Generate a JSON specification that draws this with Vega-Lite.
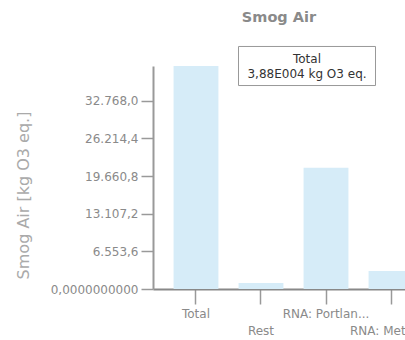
{
  "$schema": "https://vega.github.io/schema/vega-lite/v6.json",
  "autosize": "none",
  "width": 252,
  "height": 223,
  "padding": {"left": 153, "top": 66, "right": 0, "bottom": 51},
  "background": "white",
  "config": {
    "locale": {"number": {"decimal": ",", "thousands": ".", "grouping": [3], "currency": ["", "€"]}},
    "view": {"stroke": null},
    "font": "DejaVu Sans"
  },
  "title": {"text": "Smog Air", "fontSize": 14.5, "fontWeight": "bold", "color": "#8a8a8a", "offset": 19, "anchor": "middle", "font": "DejaVu Sans"},
  "datasets": {
    "bars": [
      {"category": "Total", "value": 38800},
      {"category": "Rest", "value": 1050},
      {"category": "RNA: Portlan...", "value": 21100},
      {"category": "RNA: Metha...", "value": 3150}
    ],
    "note": [
      {"category": "RNA: Portlan...", "value": 38800, "label": "Total\n3,88E004 kg O3 eq."}
    ]
  },
  "layer": [
    {
      "data": {"name": "bars"},
      "mark": {"type": "bar", "color": "#d6ecf8"},
      "encoding": {
        "x": {
          "field": "category", "type": "nominal", "sort": null,
          "scale": {"domain": ["Total", "Rest", "RNA: Portlan...", "RNA: Metha..."], "range": [0, 281], "paddingInner": 0.31, "paddingOuter": 0.3165},
          "axis": {
            "title": null,
            "labelExpr": "(datum.value == 'Rest' || datum.value == 'RNA: Metha...') ? ['', datum.value] : datum.value",
            "labelLineHeight": 17,
            "labelAngle": 0,
            "labelColor": "#8a8a8a",
            "labelFontSize": 12,
            "labelPadding": 4,
            "tickSize": 15,
            "tickColor": "#999999",
            "tickWidth": 1.5,
            "domainColor": "#888888",
            "domainWidth": 2,
            "labelLimit": 0
          }
        },
        "y": {
          "field": "value", "type": "quantitative",
          "scale": {"domain": [0, 38800], "nice": false},
          "axis": {
            "title": "Smog Air [kg O3 eq.]",
            "values": [0, 3276.8, 6553.6, 9830.4, 13107.2, 16384, 19660.8, 22937.6, 26214.4, 29491.2, 32768, 36044.8],
            "labelExpr": "datum.value == 0 ? '0,0000000000' : (round(datum.value / 3276.8) % 2 == 1 ? '' : format(datum.value, ',.1f'))",
            "tickSize": 12,
            "tickDash": {"condition": {"test": "round(datum.value / 3276.8) % 2 == 1", "value": [6, 20]}, "value": [20, 0]},
            "grid": false,
            "domainColor": "#999999",
            "domainWidth": 2,
            "tickColor": "#999999",
            "tickWidth": 1.5,
            "labelColor": "#8a8a8a",
            "labelFontSize": 12,
            "labelPadding": 3,
            "labelFlush": false,
            "labelOverlap": false,
            "titleColor": "#aaaaaa",
            "titleFontSize": 16,
            "titleFontWeight": "normal",
            "titleX": -130,
            "titleY": 129,
            "titleAngle": 270,
            "titleAlign": "center",
            "titleBaseline": "middle"
          }
        }
      }
    },
    {
      "data": {"name": "note"},
      "mark": {"type": "point", "shape": "M-1,-0.285L1,-0.285L1,0.285L-1,0.285Z", "size": 18769, "filled": true, "fill": "white", "stroke": "#999999", "strokeWidth": 1, "opacity": 1, "xOffset": -19},
      "encoding": {
        "x": {"field": "category", "type": "nominal"},
        "y": {"field": "value", "type": "quantitative"}
      }
    },
    {
      "data": {"name": "note"},
      "mark": {"type": "text", "lineBreak": "\n", "xOffset": -19, "yOffset": -7, "fontSize": 12, "color": "#333333", "lineHeight": 15, "baseline": "middle", "align": "center"},
      "encoding": {
        "x": {"field": "category", "type": "nominal"},
        "y": {"field": "value", "type": "quantitative"},
        "text": {"field": "label"}
      }
    }
  ]
}
